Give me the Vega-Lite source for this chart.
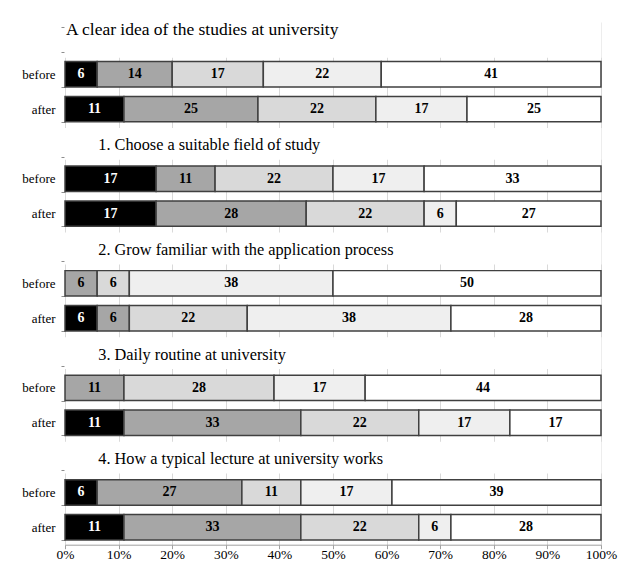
{
  "$schema": "https://vega.github.io/schema/vega-lite/v6.json",
  "width": 536,
  "height": 522.7,
  "padding": {"left": 21, "top": 16, "right": 2, "bottom": 4},
  "background": "white",
  "config": {
    "view": {"stroke": null},
    "font": "Liberation Serif"
  },
  "datasets": {
    "segs": [
      {"row": "g0-before", "cat": 1, "v": 6}, {"row": "g0-before", "cat": 2, "v": 14}, {"row": "g0-before", "cat": 3, "v": 17}, {"row": "g0-before", "cat": 4, "v": 22}, {"row": "g0-before", "cat": 5, "v": 41},
      {"row": "g0-after", "cat": 1, "v": 11}, {"row": "g0-after", "cat": 2, "v": 25}, {"row": "g0-after", "cat": 3, "v": 22}, {"row": "g0-after", "cat": 4, "v": 17}, {"row": "g0-after", "cat": 5, "v": 25},
      {"row": "g1-before", "cat": 1, "v": 17}, {"row": "g1-before", "cat": 2, "v": 11}, {"row": "g1-before", "cat": 3, "v": 22}, {"row": "g1-before", "cat": 4, "v": 17}, {"row": "g1-before", "cat": 5, "v": 33},
      {"row": "g1-after", "cat": 1, "v": 17}, {"row": "g1-after", "cat": 2, "v": 28}, {"row": "g1-after", "cat": 3, "v": 22}, {"row": "g1-after", "cat": 4, "v": 6}, {"row": "g1-after", "cat": 5, "v": 27},
      {"row": "g2-before", "cat": 2, "v": 6}, {"row": "g2-before", "cat": 3, "v": 6}, {"row": "g2-before", "cat": 4, "v": 38}, {"row": "g2-before", "cat": 5, "v": 50},
      {"row": "g2-after", "cat": 1, "v": 6}, {"row": "g2-after", "cat": 2, "v": 6}, {"row": "g2-after", "cat": 3, "v": 22}, {"row": "g2-after", "cat": 4, "v": 38}, {"row": "g2-after", "cat": 5, "v": 28},
      {"row": "g3-before", "cat": 2, "v": 11}, {"row": "g3-before", "cat": 3, "v": 28}, {"row": "g3-before", "cat": 4, "v": 17}, {"row": "g3-before", "cat": 5, "v": 44},
      {"row": "g3-after", "cat": 1, "v": 11}, {"row": "g3-after", "cat": 2, "v": 33}, {"row": "g3-after", "cat": 3, "v": 22}, {"row": "g3-after", "cat": 4, "v": 17}, {"row": "g3-after", "cat": 5, "v": 17},
      {"row": "g4-before", "cat": 1, "v": 6}, {"row": "g4-before", "cat": 2, "v": 27}, {"row": "g4-before", "cat": 3, "v": 11}, {"row": "g4-before", "cat": 4, "v": 17}, {"row": "g4-before", "cat": 5, "v": 39},
      {"row": "g4-after", "cat": 1, "v": 11}, {"row": "g4-after", "cat": 2, "v": 33}, {"row": "g4-after", "cat": 3, "v": 22}, {"row": "g4-after", "cat": 4, "v": 6}, {"row": "g4-after", "cat": 5, "v": 28}
    ],
    "titles": [
      {"row": "g0-title", "t": "A clear idea of the studies at university"},
      {"row": "g1-title", "t": "1. Choose a suitable field of study"},
      {"row": "g2-title", "t": "2. Grow familiar with the application process"},
      {"row": "g3-title", "t": "3. Daily routine at university"},
      {"row": "g4-title", "t": "4. How a typical lecture at university works"}
    ]
  },
  "layer": [
    {
      "data": {"name": "titles"},
      "transform": [{"filter": "datum.row == 'g0-title'"}],
      "mark": {"type": "bar", "color": "white", "height": {"band": 1.45}},
      "encoding": {
        "y": {"field": "row", "type": "nominal"},
        "x": {"datum": -0.1, "type": "quantitative"},
        "x2": {"datum": 100.1}
      }
    },
    {
      "data": {"name": "titles"},
      "transform": [{"filter": "datum.row != 'g0-title'"}],
      "mark": {"type": "bar", "color": "white", "height": {"band": 1.25}},
      "encoding": {
        "y": {"field": "row", "type": "nominal"},
        "x": {"datum": -0.1, "type": "quantitative"},
        "x2": {"datum": 100.1}
      }
    },
    {
      "data": {"name": "segs"},
      "mark": {"type": "bar", "stroke": "#404040", "strokeWidth": 1.5},
      "encoding": {
        "y": {
          "field": "row", "type": "nominal",
          "scale": {
            "domain": ["g0-title", "g0-before", "g0-after", "g1-title", "g1-before", "g1-after", "g2-title", "g2-before", "g2-after", "g3-title", "g3-before", "g3-after", "g4-title", "g4-before", "g4-after"],
            "paddingInner": 0.27,
            "paddingOuter": 0.135
          },
          "axis": {
            "domain": false, "grid": false,
            "ticks": true, "tickSize": 4, "tickColor": "#8c8c8c", "tickBand": "extent",
            "labelExpr": "indexof('' + datum.value, '-before') >= 0 ? 'before' : (indexof('' + datum.value, '-after') >= 0 ? 'after' : '')",
            "labelFont": "Liberation Serif", "labelFontSize": 13, "labelColor": "#000000", "labelPadding": 6,
            "title": null
          }
        },
        "x": {
          "field": "v", "type": "quantitative", "stack": "zero",
          "scale": {"domain": [0, 100], "nice": false},
          "axis": {
            "domain": true, "domainColor": "#a0a0a0",
            "values": [0, 10, 20, 30, 40, 50, 60, 70, 80, 90, 100],
            "labelExpr": "datum.value + '%'",
            "labelFlush": false,
            "tickSize": 4, "tickColor": "#a0a0a0",
            "grid": true, "gridColor": "#d9d9d9", "gridWidth": 1,
            "labelFont": "Liberation Serif", "labelFontSize": 13.5, "labelColor": "#000000", "labelPadding": -1,
            "title": null
          }
        },
        "order": {"field": "cat", "type": "quantitative"},
        "color": {
          "field": "cat", "type": "nominal",
          "scale": {"domain": [1, 2, 3, 4, 5], "range": ["#000000", "#a6a6a6", "#d9d9d9", "#efefef", "#ffffff"]},
          "legend": null
        }
      }
    },
    {
      "data": {"name": "segs"},
      "mark": {"type": "text", "font": "Liberation Serif", "fontWeight": "bold", "fontSize": 14, "baseline": "middle", "align": "center"},
      "encoding": {
        "y": {"field": "row", "type": "nominal"},
        "x": {"field": "v", "type": "quantitative", "stack": "zero", "bandPosition": 0.5},
        "detail": {"field": "cat", "type": "nominal"},
        "order": {"field": "cat", "type": "quantitative"},
        "text": {"field": "v", "type": "quantitative"},
        "color": {"condition": {"test": "datum.cat == 1", "value": "#ffffff"}, "value": "#000000"}
      }
    },
    {
      "data": {"name": "titles"},
      "transform": [{"filter": "datum.row == 'g0-title'"}],
      "mark": {"type": "text", "font": "Liberation Serif", "fontSize": 17.5, "align": "left", "baseline": "middle", "dx": 1, "dy": -9, "color": "#000000"},
      "encoding": {
        "y": {"field": "row", "type": "nominal"},
        "x": {"datum": 0, "type": "quantitative"},
        "text": {"field": "t", "type": "nominal"}
      }
    },
    {
      "data": {"name": "titles"},
      "transform": [{"filter": "datum.row != 'g0-title'"}],
      "mark": {"type": "text", "font": "Liberation Serif", "fontSize": 16.3, "align": "left", "baseline": "middle", "dy": 1.5, "color": "#000000"},
      "encoding": {
        "y": {"field": "row", "type": "nominal"},
        "x": {"datum": 6.2, "type": "quantitative"},
        "text": {"field": "t", "type": "nominal"}
      }
    }
  ]
}
